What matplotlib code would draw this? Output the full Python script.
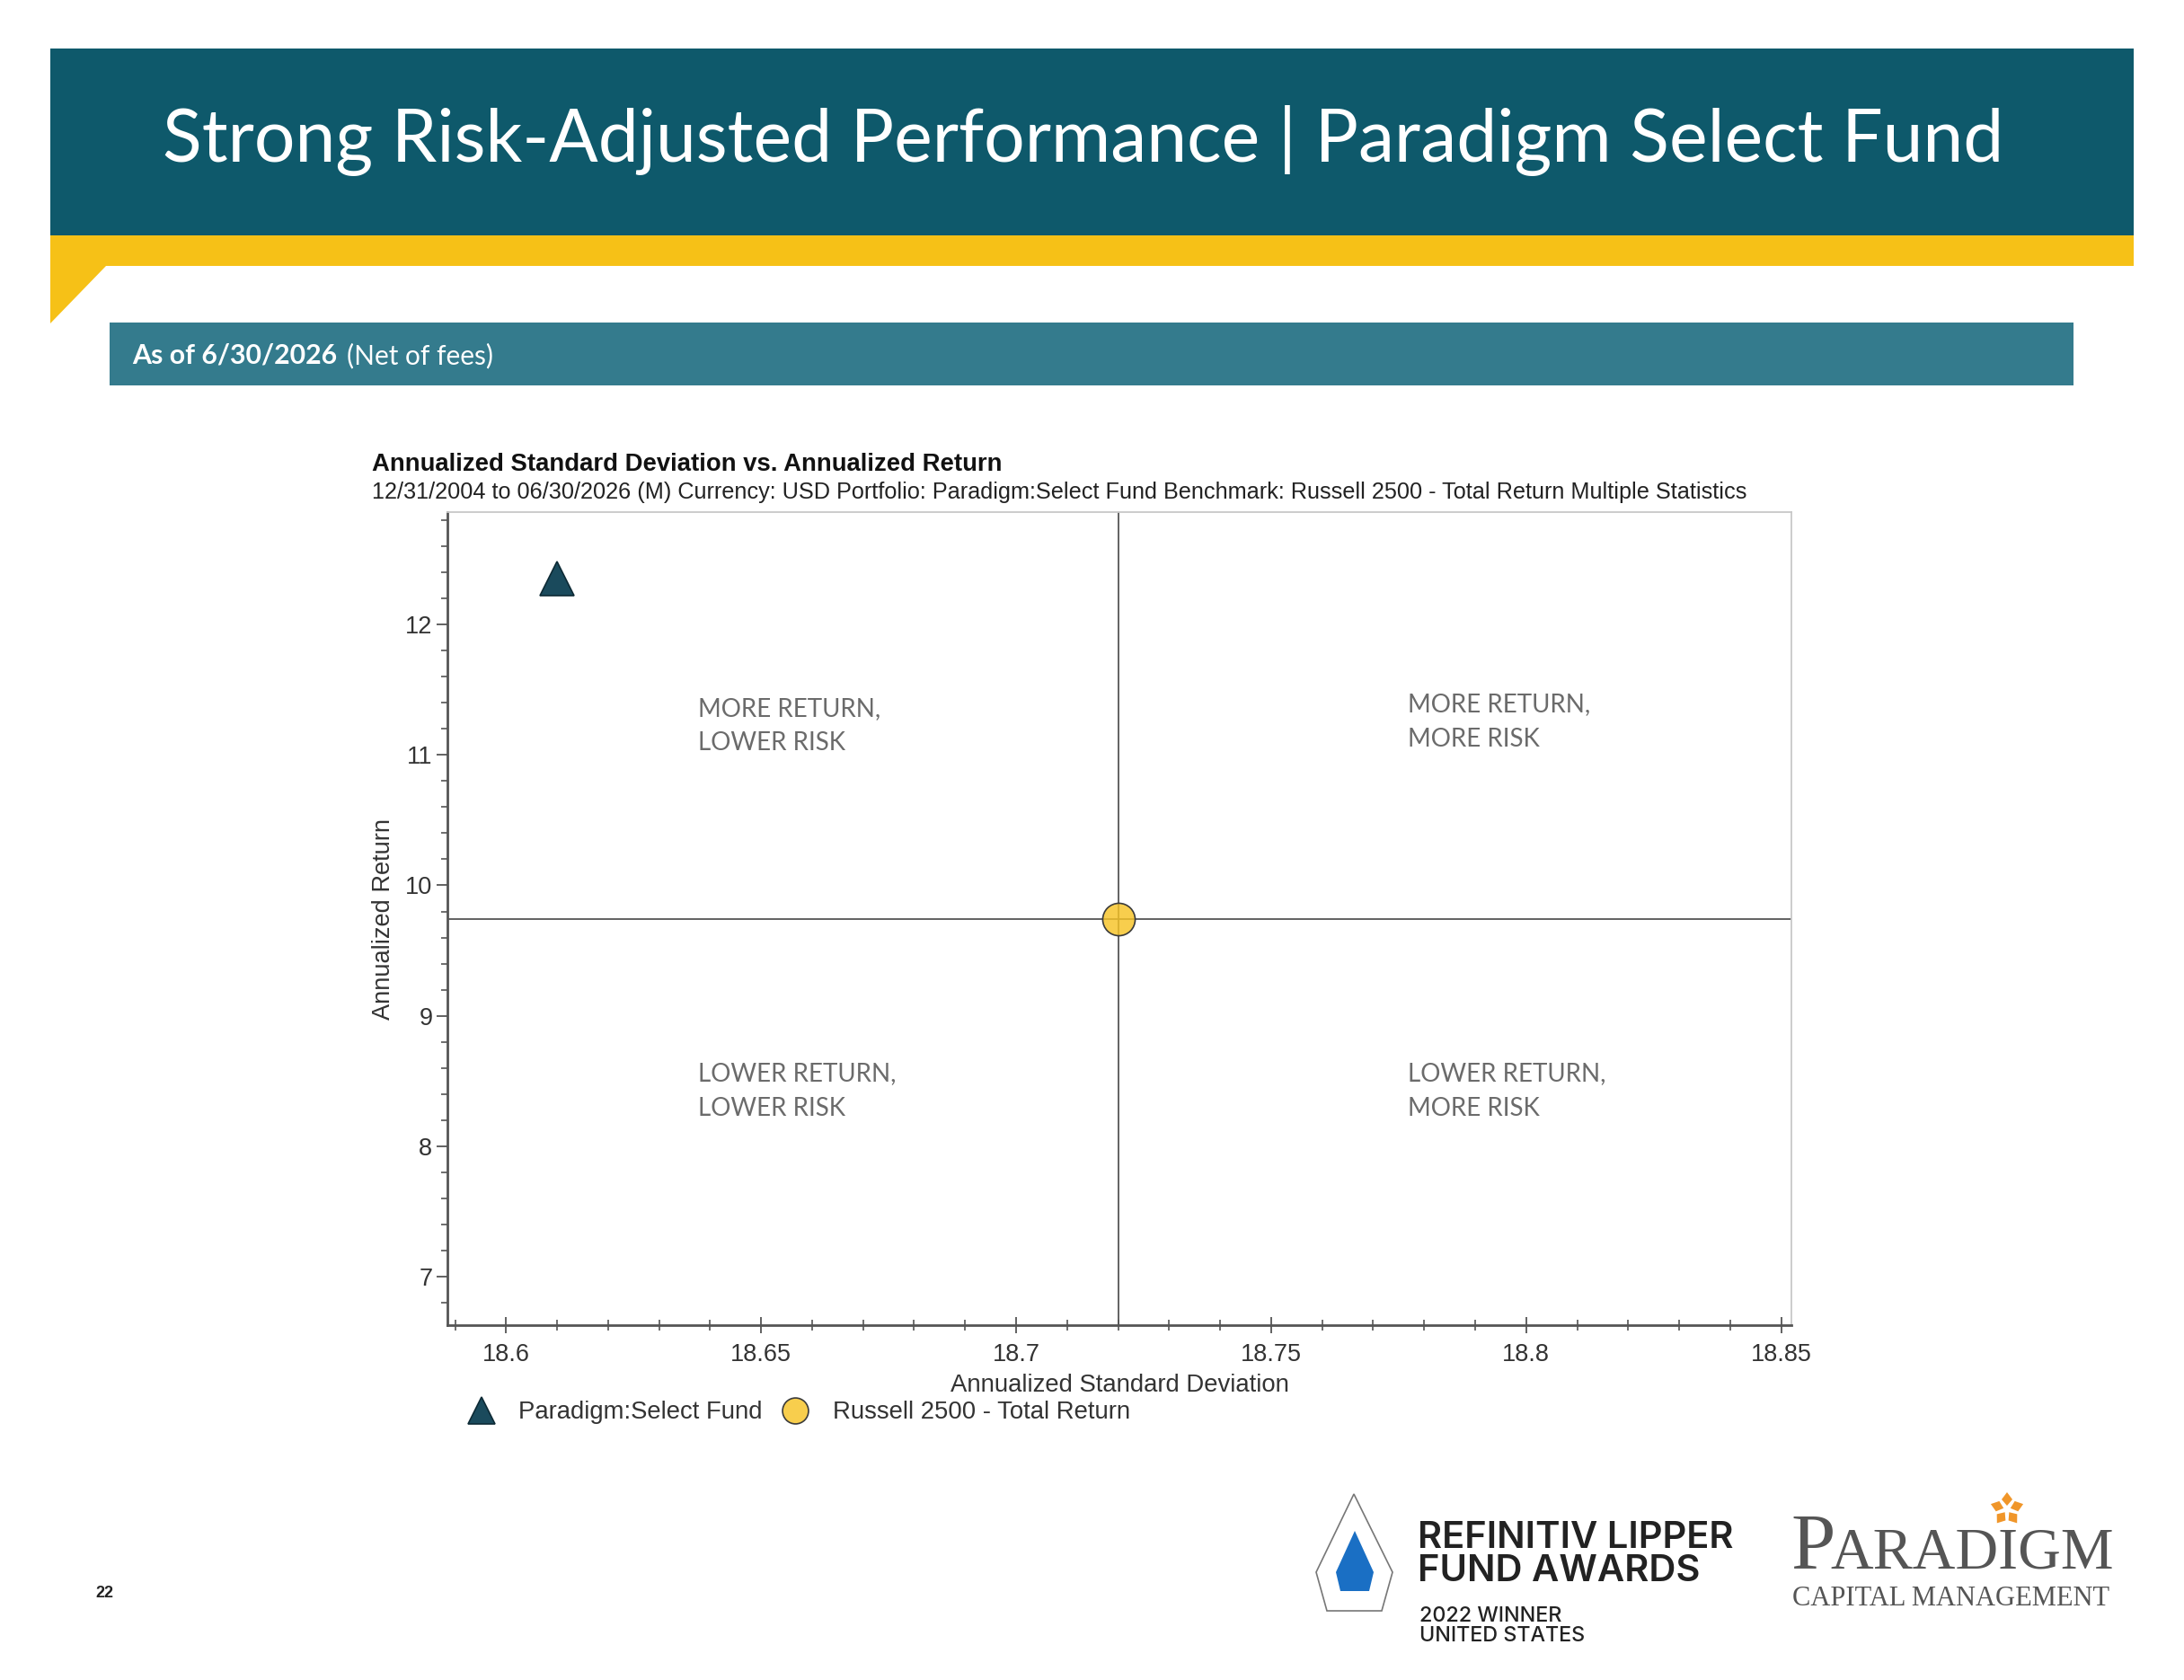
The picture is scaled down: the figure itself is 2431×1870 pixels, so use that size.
import matplotlib
matplotlib.use("Agg")
import matplotlib.pyplot as plt
from matplotlib.patches import Polygon, Rectangle
from matplotlib.ticker import MultipleLocator, FixedLocator
import numpy as np

# ---------------- data ----------------
series_names = ["Paradigm:Select Fund", "Russell 2500 - Total Return"]
std_dev = [18.61, 18.72]          # annualized standard deviation
ann_return = [12.35, 9.74]        # annualized return
x_ticks = [18.6, 18.65, 18.7, 18.75, 18.8, 18.85]
x_tick_labels = ["18.6", "18.65", "18.7", "18.75", "18.8", "18.85"]
y_ticks = [7, 8, 9, 10, 11, 12]
y_tick_labels = ["7", "8", "9", "10", "11", "12"]
quadrant_labels = ["MORE RETURN,\nLOWER RISK", "MORE RETURN,\nMORE RISK",
                   "LOWER RETURN,\nLOWER RISK", "LOWER RETURN,\nMORE RISK"]

W, H = 2431, 1870
DPI = 100
fig = plt.figure(figsize=(W / DPI, H / DPI), dpi=DPI)
fig.patch.set_facecolor("white")

# overlay in pixel coordinates for slide decoration
bg = fig.add_axes([0, 0, 1, 1], zorder=0)
bg.set_xlim(0, W)
bg.set_ylim(H, 0)
bg.axis("off")

TEAL = "#0e596b"
TEAL2 = "#347b8d"
YELLOW = "#f6c117"
bg.add_patch(Rectangle((56, 54), 2375 - 56, 262 - 54, color=TEAL, lw=0))
bg.add_patch(Polygon([(56, 262), (2375, 262), (2375, 296), (118, 296), (56, 360)],
                     closed=True, color=YELLOW, lw=0))
bg.add_patch(Rectangle((122, 359), 2308 - 122, 429 - 359, color=TEAL2, lw=0))

bg.text(1206, 156, "Strong Risk-Adjusted Performance | Paradigm Select Fund",
        color="white", fontsize=58, family="Lato", ha="center", va="center")
bg.text(147, 396, "As of 6/30/2026", color="white", fontsize=21.8,
        family="Lato", fontweight="bold", ha="left", va="center")
bg.text(386, 396, "(Net of fees)", color="white", fontsize=21.5,
        family="Lato", ha="left", va="center")

# page number
bg.text(106, 1774, "22", fontsize=13, fontweight="bold", family="Liberation Sans",
        color="#222", ha="left", va="center")

# Lipper logo
hexa = [(1507, 1663), (1550, 1750), (1538, 1793), (1477, 1793), (1465, 1750)]
bg.add_patch(Polygon(hexa, closed=True, fc="white", ec="#777", lw=1.2))
drop = [(1508, 1704), (1529, 1750), (1524, 1771), (1492, 1771), (1487, 1750)]
bg.add_patch(Polygon(drop, closed=True, fc="#1a6fc4", ec="none"))
bg.text(1578, 1712, "REFINITIV LIPPER", fontsize=30, family="Inter", fontweight="semibold",
        color="#222", ha="left", va="center")
bg.text(1578, 1749, "FUND AWARDS", fontsize=30, family="Inter", fontweight="semibold",
        color="#222", ha="left", va="center")
bg.text(1580, 1799, "2022 WINNER", fontsize=16.8, family="Inter", fontweight="medium",
        color="#222", ha="left", va="center")
bg.text(1580, 1821, "UNITED STATES", fontsize=16.8, family="Inter", fontweight="medium",
        color="#222", ha="left", va="center")

# Paradigm logo
bg.text(1993, 1745, "P", fontsize=64, family="Liberation Serif", color="#555",
        ha="left", va="baseline")
bg.text(2037, 1745, "ARADIGM", fontsize=47.5, family="Liberation Serif", color="#555",
        ha="left", va="baseline")
bg.text(1995, 1787, "CAPITAL MANAGEMENT", fontsize=22, family="Liberation Serif",
        color="#555", ha="left", va="baseline")
cx, cy = 2234, 1680
for k in range(5):
    a = np.deg2rad(90 + 72 * k)
    ux, uy = np.cos(a), -np.sin(a)
    px, py = -uy, ux
    pts = [(cx + ux * 4, cy + uy * 4),
           (cx + ux * 11 + px * 6, cy + uy * 11 + py * 6),
           (cx + ux * 19, cy + uy * 19),
           (cx + ux * 11 - px * 6, cy + uy * 11 - py * 6)]
    bg.add_patch(Polygon(pts, closed=True, color="#f0962a", lw=0))

# ---------------- chart ----------------
L, R, T, B = 498, 1994, 570, 1475
ax = fig.add_axes([L / W, 1 - B / H, (R - L) / W, (B - T) / H], zorder=2)
ax.set_facecolor("white")

ax.set_xlim(18.5885, 18.8520)
ax.set_ylim(6.63, 12.86)

ax.axvline(std_dev[1], color="#555", lw=1.3, zorder=1)
ax.axhline(ann_return[1], color="#555", lw=1.3, zorder=1)

h1, = ax.plot(std_dev[0], ann_return[0], marker="^", ms=27, color="#1a4a5c",
              mec="#0d2a35", mew=1.2, ls="none", zorder=3, label=series_names[0])
h2, = ax.plot(std_dev[1], ann_return[1], marker="o", ms=26,
              mfc=(0.97, 0.77, 0.15, 0.82), mec="#3b3b3b", mew=1.2, ls="none",
              zorder=3, label=series_names[1])

ax.xaxis.set_major_locator(FixedLocator(x_ticks))
ax.set_xticklabels(x_tick_labels)
ax.xaxis.set_minor_locator(MultipleLocator(0.01))
ax.yaxis.set_major_locator(FixedLocator(y_ticks))
ax.set_yticklabels(y_tick_labels)
ax.yaxis.set_minor_locator(MultipleLocator(0.2))

for lab in ax.get_xticklabels() + ax.get_yticklabels():
    lab.set_family("Liberation Sans")
    lab.set_fontsize(19.5)
    lab.set_color("#333")

ax.tick_params(axis="x", which="major", direction="inout", length=13, width=1.3,
               color="#555", pad=8)
ax.tick_params(axis="x", which="minor", direction="inout", length=9, width=1.2, color="#555")
ax.tick_params(axis="y", which="major", direction="out", length=9, width=1.3,
               color="#555", pad=3)
ax.tick_params(axis="y", which="minor", direction="out", length=5, width=1.2, color="#555")

for s in ("left", "bottom"):
    ax.spines[s].set_color("#555")
    ax.spines[s].set_linewidth(2.0)
for s in ("top", "right"):
    ax.spines[s].set_color("#c8c8c8")
    ax.spines[s].set_linewidth(1.3)

ax.set_xlabel("Annualized Standard Deviation", family="Liberation Sans", fontsize=19.8,
              color="#333", labelpad=6)
ax.set_ylabel("Annualized Return", family="Liberation Sans", fontsize=19.6,
              color="#333", labelpad=8)

qpos = [(0.1865, 0.737), (0.7146, 0.742), (0.1865, 0.288), (0.7146, 0.288)]
for (qx, qy), txt in zip(qpos, quadrant_labels):
    ax.text(qx, qy, txt, transform=ax.transAxes, family="Lato", fontsize=20,
            color="#6b6b6b", ha="left", va="center", linespacing=1.6)

fig.text(414 / W, 1 - 517 / H, "Annualized Standard Deviation vs. Annualized Return",
         family="Liberation Sans", fontweight="bold", fontsize=19.8, color="#111",
         ha="left", va="center")
fig.text(414 / W, 1 - 548 / H,
         "12/31/2004 to 06/30/2026 (M) Currency: USD Portfolio: Paradigm:Select Fund "
         "Benchmark: Russell 2500 - Total Return Multiple Statistics",
         family="Liberation Sans", fontsize=18.2, color="#222", ha="left", va="center")

leg = ax.legend(handles=[h1, h2], loc="upper left", ncol=2, frameon=False,
                bbox_to_anchor=(0.004, -0.081), prop={"family": "Liberation Sans", "size": 19.8},
                markerscale=0.8, handletextpad=0.75, columnspacing=0.6,
                handlelength=1.5, borderaxespad=0)
for t in leg.get_texts():
    t.set_color("#333")

fig.savefig("out.png", dpi=DPI, facecolor="white")
